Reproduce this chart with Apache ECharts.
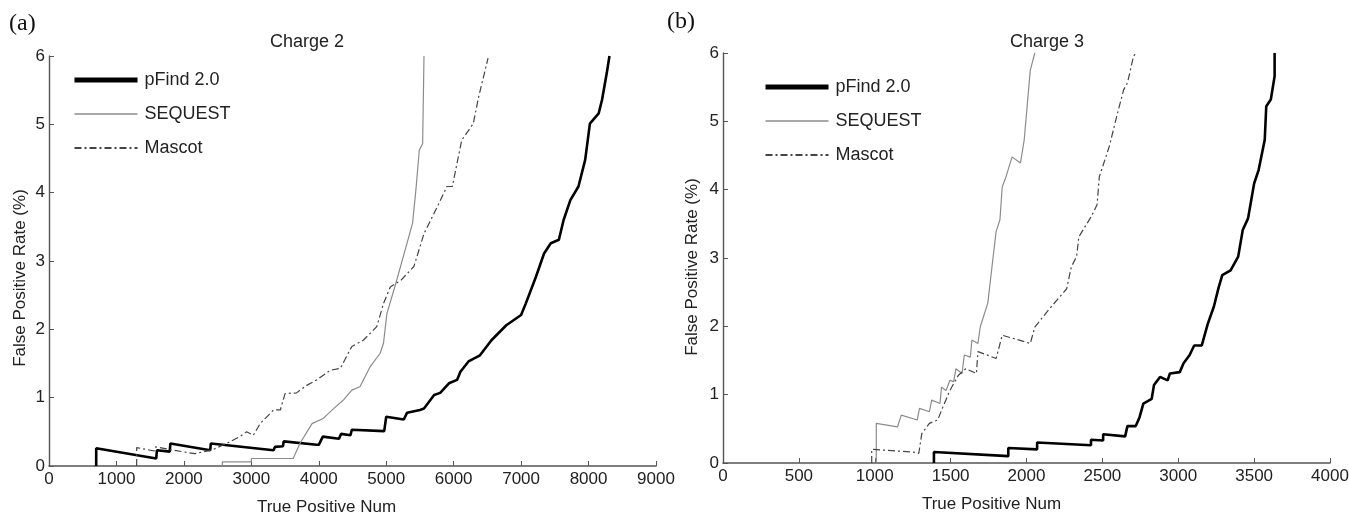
<!DOCTYPE html>
<html>
<head>
<meta charset="utf-8">
<script src="https://cdn.jsdelivr.net/npm/echarts@6/dist/echarts.min.js"></script>
<style>
html,body{margin:0;padding:0;background:#fff;}
#chart{width:1349px;height:515px;}
</style>
</head>
<body>
<div id="chart"></div>
<script>
// ---- Data (x = True Positive Num, y = False Positive Rate %) ----
const seriesNames = ['pFind 2.0', 'SEQUEST', 'Mascot'];
const panelTitles = ['Charge 2', 'Charge 3'];
const panelTags = ['(a)', '(b)'];
const xTicksA = { min: 0, max: 9000, interval: 1000 };
const xTicksB = { min: 0, max: 4000, interval: 500 };
const yTicks = { min: 0, max: 6, interval: 1 };

const pfindCharge2 = [[700,0],[700,0.26],[1590,0.11],[1600,0.23],[1790,0.21],[1800,0.33],[2390,0.23],[2400,0.33],[3330,0.23],[3350,0.28],[3470,0.29],[3480,0.36],[3970,0.31],[4000,0.31],[4060,0.43],[4300,0.40],[4330,0.47],[4470,0.45],[4490,0.53],[4970,0.51],[5000,0.72],[5260,0.68],[5310,0.78],[5500,0.82],[5560,0.84],[5710,1.04],[5800,1.07],[5930,1.21],[6050,1.26],[6100,1.38],[6220,1.53],[6390,1.62],[6560,1.84],[6780,2.06],[7000,2.21],[7070,2.38],[7220,2.77],[7340,3.11],[7440,3.26],[7560,3.31],[7630,3.60],[7730,3.89],[7850,4.09],[7950,4.48],[8020,5.01],[8150,5.16],[8200,5.36],[8270,5.75],[8310,6.0]];
const sequestCharge2 = [[2570,0],[2570,0.06],[3000,0.06],[3000,0.11],[3620,0.11],[3720,0.33],[3900,0.62],[4070,0.70],[4220,0.84],[4370,0.97],[4490,1.11],[4610,1.16],[4760,1.45],[4910,1.65],[4960,1.80],[5010,2.23],[5130,2.63],[5280,3.16],[5390,3.55],[5440,4.04],[5490,4.62],[5540,4.72],[5560,6.0]];
const mascotCharge2 = [[1300,0],[1300,0.27],[1560,0.22],[1580,0.28],[1800,0.24],[2160,0.18],[2430,0.24],[2630,0.33],[2830,0.43],[2930,0.50],[3030,0.45],[3130,0.62],[3330,0.82],[3430,0.82],[3500,1.06],[3670,1.07],[3820,1.18],[3970,1.26],[4170,1.40],[4320,1.43],[4490,1.75],[4660,1.84],[4860,2.04],[4960,2.38],[5060,2.62],[5220,2.72],[5410,2.92],[5560,3.40],[5760,3.80],[5900,4.09],[5980,4.09],[6120,4.77],[6290,5.01],[6370,5.40],[6510,5.97]];

const pfindCharge3 = [[1390,0],[1390,0.16],[1880,0.10],[1880,0.22],[2070,0.20],[2070,0.30],[2425,0.26],[2425,0.34],[2505,0.33],[2505,0.42],[2650,0.39],[2665,0.54],[2720,0.54],[2745,0.67],[2770,0.87],[2825,0.94],[2840,1.14],[2880,1.26],[2930,1.21],[2945,1.31],[3010,1.33],[3035,1.46],[3075,1.58],[3105,1.72],[3155,1.72],[3195,2.04],[3235,2.29],[3265,2.56],[3290,2.75],[3345,2.82],[3395,3.02],[3425,3.41],[3460,3.58],[3500,4.09],[3530,4.29],[3570,4.73],[3580,5.22],[3610,5.32],[3635,5.66],[3635,6.0]];
const sequestCharge3 = [[1010,0],[1010,0.58],[1150,0.53],[1175,0.70],[1280,0.63],[1295,0.80],[1360,0.75],[1375,0.92],[1430,0.87],[1440,1.11],[1470,1.06],[1495,1.21],[1520,1.19],[1535,1.38],[1575,1.31],[1590,1.58],[1630,1.55],[1640,1.80],[1680,1.75],[1695,1.99],[1745,2.34],[1775,2.92],[1800,3.39],[1825,3.56],[1840,4.04],[1865,4.19],[1905,4.48],[1960,4.39],[1985,4.73],[2025,5.75],[2055,6.0]];
const mascotCharge3 = [[980,0],[980,0.20],[1255,0.16],[1290,0.14],[1310,0.43],[1360,0.58],[1415,0.63],[1440,0.77],[1495,1.06],[1550,1.28],[1600,1.38],[1670,1.31],[1680,1.63],[1800,1.53],[1840,1.87],[2025,1.75],[2055,1.99],[2145,2.24],[2265,2.55],[2295,2.87],[2330,3.02],[2345,3.31],[2425,3.60],[2465,3.78],[2480,4.19],[2545,4.63],[2600,5.12],[2640,5.46],[2665,5.56],[2705,5.95],[2720,6.0]];

// ---- Styles ----
const FONT = 'Liberation Sans, Arial, sans-serif';
const styles = {
  'pFind 2.0': { color: '#000', width: 2.6, type: 'solid' },
  'SEQUEST':   { color: '#8c8c8c', width: 1.2, type: 'solid' },
  'Mascot':    { color: '#444', width: 1.2, type: [7, 3, 2, 3] }
};
const legendWidths = { 'pFind 2.0': 5, 'SEQUEST': 1.6, 'Mascot': 1.8 };

function mkSeries(name, data, idx) {
  const s = styles[name];
  return {
    name, type: 'line', data, xAxisIndex: idx, yAxisIndex: idx,
    showSymbol: false, symbol: 'none', animation: false,
    lineStyle: { color: s.color, width: s.width, type: s.type },
    itemStyle: { color: s.color }
  };
}
function mkX(idx, t, namePad) {
  return {
    type: 'value', gridIndex: idx, min: t.min, max: t.max, interval: t.interval,
    axisLine: { onZero: false, lineStyle: { color: '#555', width: 1.6 } },
    axisTick: { inside: true, length: 5, lineStyle: { color: '#555' } },
    axisLabel: { fontSize: 17, color: '#222', margin: 5, fontFamily: FONT, formatter: v => String(v) },
    splitLine: { show: false },
    name: 'True Positive Num', nameLocation: 'middle', nameGap: 33,
    nameTextStyle: { fontSize: 17, color: '#222', fontFamily: FONT, padding: [0, namePad, 0, 0] }
  };
}
function mkY(idx, gap, namePad) {
  return {
    type: 'value', gridIndex: idx, min: yTicks.min, max: yTicks.max, interval: yTicks.interval,
    axisLine: { show: true, onZero: false, lineStyle: { color: '#555', width: 1.4 } },
    axisTick: { show: true, inside: true, length: 5, lineStyle: { color: '#555' } },
    axisLabel: { fontSize: 17, color: '#222', margin: 4, fontFamily: FONT, formatter: v => String(v) },
    splitLine: { show: false },
    name: 'False Positive Rate (%)', nameLocation: 'middle', nameGap: gap,
    nameTextStyle: { fontSize: 17, color: '#222', fontFamily: FONT, padding: [0, namePad, 0, 0] }
  };
}
function mkLegend(left, top) {
  return {
    orient: 'vertical', left, top, padding: 0, itemWidth: 63, itemHeight: 14, itemGap: 16,
    textStyle: { fontSize: 18, color: '#222', fontFamily: FONT, padding: [0, 0, 0, 2] },
    data: seriesNames.map(n => ({
      name: n,
      lineStyle: { width: legendWidths[n] },
      itemStyle: { color: 'rgba(0,0,0,0)', borderWidth: 0, opacity: 0 }
    })),
    selectedMode: false
  };
}

const option = {
  backgroundColor: '#fff',
  animation: false,
  title: [
    { text: panelTags[0], left: 9, top: 12, padding: 0, textStyle: { fontFamily: 'Liberation Serif, Times New Roman, serif', fontSize: 24, fontWeight: 'normal', color: '#111' } },
    { text: panelTags[1], left: 667, top: 10, padding: 0, textStyle: { fontFamily: 'Liberation Serif, Times New Roman, serif', fontSize: 24, fontWeight: 'normal', color: '#111' } },
    { text: panelTitles[0], left: 270, top: 33, padding: 0, textStyle: { fontFamily: FONT, fontSize: 18, fontWeight: 'normal', color: '#222' } },
    { text: panelTitles[1], left: 1010, top: 33, padding: 0, textStyle: { fontFamily: FONT, fontSize: 18, fontWeight: 'normal', color: '#222' } }
  ],
  legend: [ mkLegend(72, 71), mkLegend(763, 78) ],
  grid: [
    { left: 49, top: 56, width: 607, height: 410, containLabel: false, outerBoundsMode: 'none' },
    { left: 723, top: 53, width: 607, height: 410, containLabel: false, outerBoundsMode: 'none' }
  ],
  xAxis: [ mkX(0, xTicksA, 52), mkX(1, xTicksB, 70) ],
  yAxis: [ mkY(0, 20, 34), mkY(1, 22, 18) ],
  series: [
    mkSeries('pFind 2.0', pfindCharge2, 0),
    mkSeries('SEQUEST', sequestCharge2, 0),
    mkSeries('Mascot', mascotCharge2, 0),
    mkSeries('pFind 2.0', pfindCharge3, 1),
    mkSeries('SEQUEST', sequestCharge3, 1),
    mkSeries('Mascot', mascotCharge3, 1)
  ]
};
const chart = echarts.init(document.getElementById('chart'), null, { renderer: 'canvas' });
chart.setOption(option);
</script>
</body>
</html>
